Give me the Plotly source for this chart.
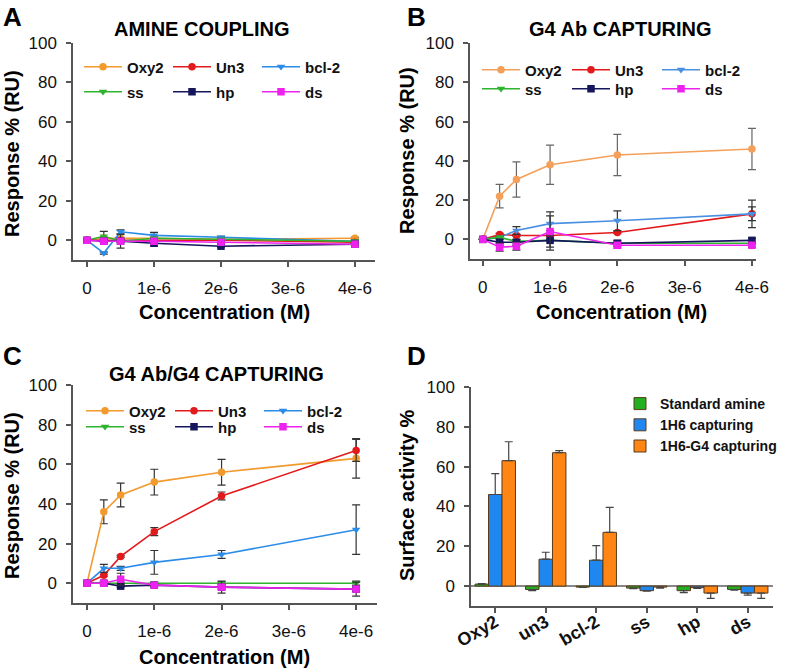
import plotly.graph_objects as go

W, H = 786, 668

# ---------------- data ----------------
conc = [0, 0.25e-6, 0.5e-6, 1e-6, 2e-6, 4e-6]
names = ["Oxy2", "Un3", "bcl-2", "ss", "hp", "ds"]

# Panel A: amine coupling
a_vals = {
    "Oxy2": [0, 1, 1, 1, 0.5, 1],
    "Un3": [0, 0, 0, 0, 0, -1],
    "bcl-2": [0, -6.5, 4.3, 2.5, 1.5, -0.5],
    "ss": [0, 2, -0.5, 1, 0.5, -0.5],
    "hp": [0, -0.5, -0.5, -1.5, -3, -2],
    "ds": [0, -0.5, -0.5, -0.5, -1, -2],
}
a_err = {
    "Oxy2": [0, 0.5, 0.5, 0.5, 0.5, 0.5],
    "Un3": [0, 0.5, 0.5, 0.5, 0.5, 0.5],
    "bcl-2": [0, 0.5, 1, 1.5, 0.5, 0.5],
    "ss": [0, 2.5, 3.5, 0.5, 0.5, 0.5],
    "hp": [0, 0.5, 0.5, 1.5, 0.5, 0.5],
    "ds": [0, 0.5, 0.5, 0.5, 0.5, 0.5],
}

# Panel B: G4 Ab capturing
b_vals = {
    "Oxy2": [0, 22, 30.5, 38, 43, 46],
    "Un3": [0, 2.5, 2, 2, 3.5, 13],
    "bcl-2": [0, 1, 4.5, 8, 9.5, 13],
    "ss": [0, 1, -1, -0.5, -2, -2],
    "hp": [0, -1.5, -1.5, -0.5, -2, -0.5],
    "ds": [0, -4, -3.5, 4, -3, -3],
}
b_err = {
    "Oxy2": [0, 6, 9, 10, 10.5, 10.5],
    "Un3": [0, 0.5, 0.5, 0.5, 0.5, 3.5],
    "bcl-2": [0, 0.5, 2, 6, 5, 7],
    "ss": [0, 0.5, 0.5, 0.5, 0.5, 0.5],
    "hp": [0, 1.5, 1.5, 5, 1.5, 1],
    "ds": [0, 2, 2, 8, 1.5, 1],
}

# Panel C: G4 Ab/G4 capturing
c_vals = {
    "Oxy2": [0, 36, 44.5, 51, 56, 63],
    "Un3": [0, 4, 13.5, 26, 44, 67],
    "bcl-2": [0, 7.5, 7.5, 10.5, 14.5, 27],
    "ss": [0, 0, 0, 0, 0, 0],
    "hp": [0, 0, -1.5, -1, -2, -3],
    "ds": [0, 0, 2, -1, -2, -3],
}
c_err = {
    "Oxy2": [0, 6, 6, 6.5, 6.5, 10],
    "Un3": [0, 0.5, 0.5, 2, 2, 5.5],
    "bcl-2": [0, 2, 1, 6, 2, 12.5],
    "ss": [0, 0, 0, 0, 0.5, 1],
    "hp": [0, 0.5, 0.5, 0.5, 1, 1],
    "ds": [0, 1, 3, 1, 3, 3.5],
}

# Panel D: surface activity
d_cats = ["Oxy2", "un3", "bcl-2", "ss", "hp", "ds"]
d_series = ["Standard amine", "1H6 capturing", "1H6-G4 capturing"]
d_amine = [1, -1.7, -0.5, -1, -2.3, -1.7]
d_amine_err = [0.3, 0.6, 0.2, 0.3, 1.0, 0.3]
d_1h6 = [46, 13.5, 13, -2.3, -0.8, -3.5]
d_1h6_err = [10.5, 3.5, 7.3, 0.3, 0.3, 1.0]
d_g4 = [63, 67, 27, -0.5, -3.5, -3.5]
d_g4_err = [9.5, 1, 12.5, 0.5, 2.7, 2.7]

x_tickvals = [0, 1e-6, 2e-6, 3e-6, 4e-6]
x_ticktext = ["0", "1e-6", "2e-6", "3e-6", "4e-6"]
y_tickvals = [0, 20, 40, 60, 80, 100]

# ---------------- styles ----------------
FONT = "Liberation Sans, Arial, sans-serif"
colors = {"Oxy2": "#F39A2E", "Un3": "#E31A1C", "bcl-2": "#2B8CE8",
          "ss": "#2DB32D", "hp": "#16165C", "ds": "#EE22EE"}
colors_b = dict(colors, **{"Oxy2": "#F4A05A", "bcl-2": "#4A90E2"})
symbols = {"Oxy2": "circle", "Un3": "circle", "bcl-2": "triangle-down",
           "ss": "triangle-down", "hp": "square", "ds": "square"}


def px_x(p):
    return p / W


def px_y(p):
    return 1 - p / H


fig = go.Figure()

panels = [
    ("x", "y", a_vals, a_err, colors, ("legend", "legend2")),
    ("x2", "y2", b_vals, b_err, colors_b, ("legend3", "legend4")),
    ("x3", "y3", c_vals, c_err, colors, ("legend5", "legend6")),
]
for xa, ya, vals, errs, cols, legs in panels:
    for i, n in enumerate(names):
        ecol = "#666666" if (xa == "x2" and n == "Oxy2") else "#333333"
        fig.add_trace(go.Scatter(
            x=conc, y=vals[n], name=n, mode="lines+markers",
            xaxis=xa, yaxis=ya, legend=legs[0] if i < 3 else legs[1],
            line=dict(color=cols[n], width=1.6),
            marker=dict(color=cols[n], symbol=symbols[n], size=7.5),
            error_y=dict(type="data", array=errs[n], visible=True,
                         color=ecol, thickness=1.2, width=4),
        ))

# Panel D bars
d_colors = ["#22B022", "#1E88F0", "#FF8514"]
for nm, v, e, c in zip(d_series, [d_amine, d_1h6, d_g4],
                       [d_amine_err, d_1h6_err, d_g4_err], d_colors):
    up = [ee if vv >= 0 else 0 for vv, ee in zip(v, e)]
    dn = [ee if vv < 0 else 0 for vv, ee in zip(v, e)]
    fig.add_trace(go.Bar(
        x=d_cats, y=v, name=nm, xaxis="x4", yaxis="y4", legend="legend7",
        marker=dict(color=c, line=dict(color="#5A3A1A", width=1)),
        error_y=dict(type="data", symmetric=False, array=up, arrayminus=dn,
                     color="#444444", thickness=1.2, width=4),
    ))

# ---------------- axes ----------------
axis_common = dict(showgrid=False, zeroline=False, showline=True,
                   automargin=False,
                   linecolor="#555555", linewidth=1.5, ticks="outside",
                   ticklen=5, tickwidth=1.5, tickcolor="#555555",
                   tickfont=dict(family=FONT, size=17, color="#111111"))

geo = {
    "1": (73, 375, 43, 260, [-0.21e-6, 4.3e-6]),
    "2": (470, 756, 43, 259, [-0.19e-6, 4.06e-6]),
    "3": (73, 377, 385, 603, [-0.208e-6, 4.31e-6]),
}
for k, (x0, x1, yt, yb, xr) in geo.items():
    sfx = "" if k == "1" else k
    fig.update_layout(**{
        "xaxis" + sfx: dict(axis_common, domain=[px_x(x0), px_x(x1)],
                            anchor="y" + sfx, range=xr,
                            tickvals=x_tickvals, ticktext=x_ticktext,
                            ticklabelstandoff=7),
        "yaxis" + sfx: dict(axis_common, domain=[px_y(yb), px_y(yt)],
                            anchor="x" + sfx, range=[-10, 100],
                            tickvals=y_tickvals, ticklabelstandoff=6),
    })

fig.update_layout(
    xaxis4=dict(axis_common, domain=[px_x(471), px_x(773)], anchor="y4",
                range=[-0.48, 5.5], type="category", tickangle=-30,
                ticklabelstandoff=-8,
                tickfont=dict(family=FONT, size=18, color="#111111",
                              weight="bold")),
    yaxis4=dict(axis_common, domain=[px_y(606), px_y(387)], anchor="x4",
                range=[-10, 100], tickvals=y_tickvals, zeroline=True,
                zerolinecolor="#888888", zerolinewidth=1.5,
                ticklabelstandoff=6),
    barmode="group", bargap=0.2, bargroupgap=0.0,
)

# ---------------- legends ----------------
def leg(x0, yc, entry):
    return dict(orientation="h", xref="paper", yref="paper",
                x=px_x(x0), y=px_y(yc), xanchor="left", yanchor="middle",
                bgcolor="rgba(0,0,0,0)", entrywidth=entry, itemwidth=38,
                font=dict(family=FONT, size=15, color="#111111", weight="bold"),
                itemclick=False, itemdoubleclick=False)

fig.update_layout(
    legend=leg(79, 67, 36),
    legend2=leg(79, 92, 36),
    legend3=leg(477, 70, 37),
    legend4=leg(477, 89, 37),
    legend5=leg(81, 411, 36),
    legend6=leg(81, 427, 36),
    legend7=dict(orientation="v", xref="paper", yref="paper",
                 x=px_x(620), y=px_y(388), xanchor="left", yanchor="top",
                 bgcolor="rgba(0,0,0,0)", tracegroupgap=0,
                 font=dict(family=FONT, size=14, color="#111111", weight="bold"),
                 itemclick=False, itemdoubleclick=False),
)

# ---------------- text annotations ----------------
def ann(text, x, y, size, angle=0, xanchor="center", yanchor="middle"):
    return dict(text=text, x=px_x(x), y=px_y(y), xref="paper", yref="paper",
                showarrow=False, textangle=angle, xanchor=xanchor, yanchor=yanchor,
                font=dict(family=FONT, size=size, color="#000000", weight="bold"))

annotations = [
    ann("A", 1, 0, 26, xanchor="left", yanchor="top"),
    ann("B", 405, 0, 26, xanchor="left", yanchor="top"),
    ann("C", 1, 339, 26, xanchor="left", yanchor="top"),
    ann("D", 405, 339, 26, xanchor="left", yanchor="top"),
    ann("AMINE COUPLING", 202, 29, 20),
    ann("G4 Ab CAPTURING", 620, 29, 20),
    ann("G4 Ab/G4 CAPTURING", 216, 374, 20),
    ann("Concentration (M)", 225, 312, 20),
    ann("Concentration (M)", 621, 312, 20),
    ann("Concentration (M)", 225, 657, 20),
    ann("Response % (RU)", 12, 154, 20, angle=-90),
    ann("Response % (RU)", 407, 151, 20, angle=-90),
    ann("Response % (RU)", 12, 496, 20, angle=-90),
    ann("Surface activity %", 407, 496, 20, angle=-90),
]

fig.update_layout(
    width=W, height=H, margin=dict(l=0, r=0, t=0, b=0, autoexpand=False),
    paper_bgcolor="white", plot_bgcolor="white",
    annotations=annotations,
    font=dict(family=FONT),
)

fig.write_html("out.html", config={"displayModeBar": False},
               post_script="document.body.style.margin='0';document.body.style.padding='0';")
